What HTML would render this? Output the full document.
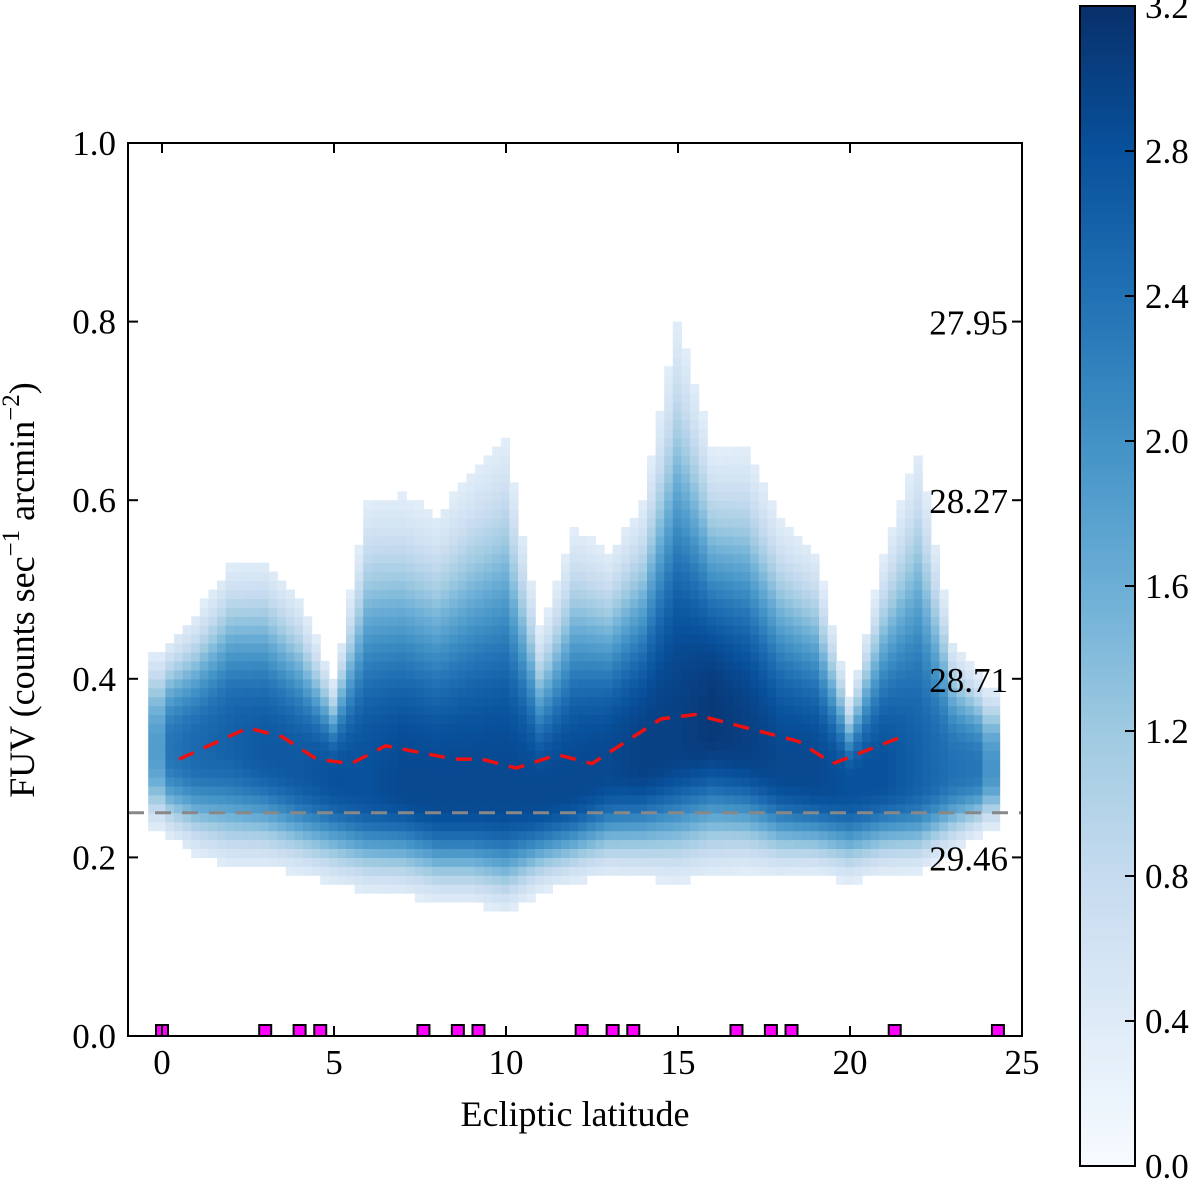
<!DOCTYPE html>
<html><head><meta charset="utf-8"><style>
body{margin:0;background:#fff}
svg text{font-family:"Liberation Serif",serif;fill:#000}
</style></head><body>
<svg id="s" width="1200" height="1186" viewBox="0 0 1200 1186">
<defs><linearGradient id="cb" x1="0" y1="1" x2="0" y2="0">
<stop offset="0" stop-color="#f7fbff"/><stop offset=".125" stop-color="#deebf7"/><stop offset=".25" stop-color="#c6dbef"/><stop offset=".375" stop-color="#9ecae1"/><stop offset=".5" stop-color="#6baed6"/><stop offset=".625" stop-color="#4292c6"/><stop offset=".75" stop-color="#2171b5"/><stop offset=".875" stop-color="#08519c"/><stop offset="1" stop-color="#08306b"/></linearGradient></defs>
<g id="heat"></g>
<g id="over"></g>
<rect x="128" y="143" width="894" height="893" fill="none" stroke="#000" stroke-width="2"/>
<g id="axes"></g>
<text x="34" y="590" font-size="36" text-anchor="middle" transform="rotate(-90 34 590)">FUV (counts sec<tspan dy="-15" font-size="25">−1</tspan><tspan dy="15"> arcmin</tspan><tspan dy="-15" font-size="25">−2</tspan><tspan dy="15">)</tspan></text>
<text x="575" y="1126" font-size="36" text-anchor="middle">Ecliptic latitude</text>
<rect x="1080" y="6" width="55" height="1160" fill="url(#cb)" stroke="#000" stroke-width="2"/>
<g id="cbax"></g>
</svg>
<script>
const lats=[0,1,2,3,4,5,6,7,8,9,10,11,12,13,14,15,16,17,18,19,20,21,22,23,24];
const centers=[0.32,0.32,0.33,0.32,0.30,0.29,0.28,0.28,0.27,0.27,0.27,0.27,0.28,0.30,0.31,0.33,0.35,0.33,0.30,0.29,0.28,0.29,0.29,0.30,0.30];
const lowEdge=[0.24,0.22,0.21,0.21,0.20,0.19,0.18,0.18,0.17,0.17,0.16,0.18,0.19,0.20,0.20,0.20,0.21,0.21,0.20,0.20,0.19,0.20,0.20,0.22,0.24];
const highEdge=[0.42,0.45,0.50,0.50,0.46,0.38,0.55,0.55,0.53,0.57,0.60,0.42,0.52,0.50,0.55,0.72,0.60,0.60,0.53,0.50,0.36,0.50,0.60,0.42,0.38];
const peaks=[2.3,2.5,2.6,2.7,2.7,2.8,2.8,2.9,2.9,2.9,2.9,2.9,2.9,2.9,3.0,3.0,3.1,3.0,2.9,2.9,2.8,2.8,2.6,2.4,2.3];
const trendX=[0.5,2.5,3.5,4.5,5.5,6.5,8.5,9.3,10.3,11.5,12.5,13.5,14.5,15.5,16.5,18.5,19.5,21.5];
const trendY=[0.31,0.345,0.335,0.31,0.305,0.325,0.31,0.31,0.30,0.315,0.305,0.33,0.355,0.36,0.35,0.33,0.305,0.335];
const markerX=[0,3,4,4.6,7.6,8.6,9.2,12.2,13.1,13.7,16.7,17.7,18.3,21.3,24.3];
const xTicks=[0,5,10,15,20,25];
const yTicks=[0.0,0.2,0.4,0.6,0.8,1.0];
const magLabels=["27.95","28.27","28.71","29.46"];
const magY=[0.8,0.6,0.4,0.2];
const cbTicks=[0.0,0.4,0.8,1.2,1.6,2.0,2.4,2.8,3.2];
const NS="http://www.w3.org/2000/svg";
const X=v=>162+(v)*34.4, Y=v=>1036-v*893, CB=v=>1166-v/3.2*1160;
const stops=[[247,251,255],[222,235,247],[198,219,239],[158,202,225],[107,174,214],[66,146,198],[33,113,181],[8,81,156],[8,48,107]];
function cmap(v){let t=Math.max(0,Math.min(1,v/3.2))*8,i=Math.min(7,Math.floor(t)),f=t-i,a=stops[i],b=stops[i+1];
return `rgb(${a.map((c,k)=>Math.round(c+(b[k]-c)*f)).join(',')})`;}
function mk(tag,at,par){const e=document.createElementNS(NS,tag);for(const k in at)e.setAttribute(k,at[k]);par.appendChild(e);return e;}
function interp(arr,lat){lat=Math.max(0,Math.min(24,lat));const i=Math.min(23,Math.floor(lat)),f=lat-i;return arr[i]+(arr[i+1]-arr[i])*f;}
const heat=document.getElementById('heat');
const bw=0.25,bh=0.01;
for(let lat=-0.4;lat<24.2;lat+=bw){
 const c=interp(centers,lat+bw/2),lo=interp(lowEdge,lat+bw/2),hi=interp(highEdge,lat+bw/2),p=interp(peaks,lat+bw/2);
 let edge=1; if(lat<0)edge=0.8; if(lat>23.8)edge=0.85;
 for(let y=0;y<1;y+=bh){
  const ym=y+bh/2; const t=ym>c?(ym-c)/(hi-c):(c-ym)/(c-lo);
  const v=p*edge*Math.exp(-1.3*Math.pow(t,2.6));
  if(v<0.35)continue;
  const r=mk('rect',{x:X(lat).toFixed(1),y:Y(y+bh).toFixed(1),width:(bw*34.4+0.6).toFixed(1),height:(bh*893+0.6).toFixed(1),fill:cmap(v)},heat);
  
  
 }
}
const over=document.getElementById('over');
const gl=mk('line',{x1:128,x2:1022,y1:Y(0.25),y2:Y(0.25),stroke:'#888','stroke-width':3,'stroke-dasharray':'16 11'},over);


const tl=mk('polyline',{points:trendX.map((x,i)=>X(x)+','+Y(trendY[i])).join(' '),fill:'none',stroke:'#ee1111','stroke-width':3.5,'stroke-dasharray':'16 11'},over);


markerX.forEach(x=>{const m=mk('rect',{x:X(x)-6,y:1025,width:12,height:11,fill:'#ff00ff',stroke:'#000','stroke-width':2},over);
 
 });
magLabels.forEach((s,i)=>{const t=mk('text',{x:1008,y:Y(magY[i])+13,'font-size':35,'text-anchor':'end'},over);t.textContent=s;
 
 });
const ax=document.getElementById('axes');
xTicks.forEach(v=>{mk('line',{x1:X(v),x2:X(v),y1:1036,y2:1026,stroke:'#000','stroke-width':2},ax);mk('line',{x1:X(v),x2:X(v),y1:143,y2:153,stroke:'#000','stroke-width':2},ax);
 const t=mk('text',{x:X(v),y:1074,'font-size':35,'text-anchor':'middle'},ax);t.textContent=v;
 
 });
yTicks.forEach(v=>{mk('line',{x1:128,x2:138,y1:Y(v),y2:Y(v),stroke:'#000','stroke-width':2},ax);mk('line',{x1:1012,x2:1022,y1:Y(v),y2:Y(v),stroke:'#000','stroke-width':2},ax);
 const t=mk('text',{x:116,y:Y(v)+12,'font-size':35,'text-anchor':'end'},ax);t.textContent=v.toFixed(1);
 
 });
const cb=document.getElementById('cbax');
cbTicks.forEach(v=>{mk('line',{x1:1125,x2:1135,y1:CB(v),y2:CB(v),stroke:'#000','stroke-width':2},cb);
 const t=mk('text',{x:1145,y:CB(v)+12,'font-size':35},cb);t.textContent=v.toFixed(1);
 
 });
</script>
</body></html>
